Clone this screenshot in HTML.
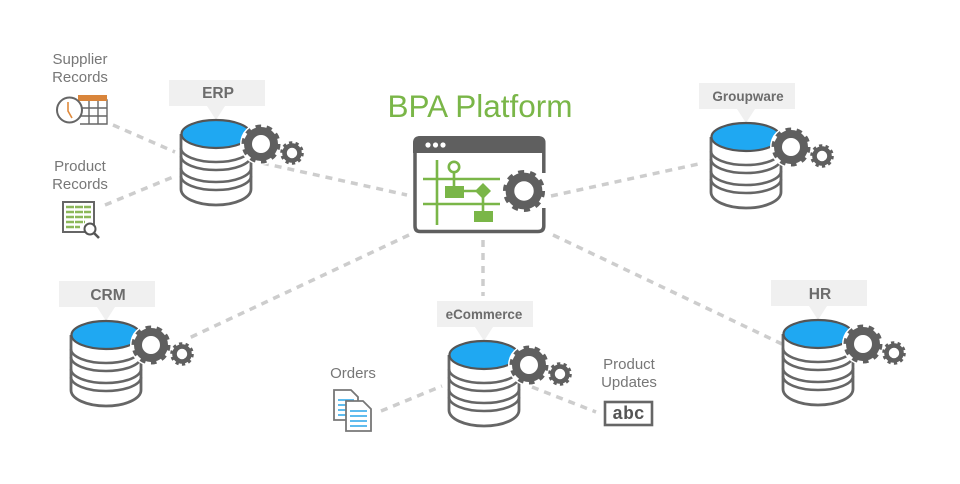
<!DOCTYPE html>
<html>
<head>
<meta charset="utf-8">
<style>
html,body{margin:0;padding:0;background:#fff;width:960px;height:484px;overflow:hidden}
svg{display:block}
text{font-family:"Liberation Sans",sans-serif;text-anchor:middle}
.lb{fill:#777;font-size:15px}
.tag{fill:#6c6c6c;font-weight:bold}
.d{stroke:#cdcdcd;stroke-width:3.5;stroke-dasharray:7 6;fill:none}
</style>
</head>
<body>
<svg width="960" height="484" viewBox="0 0 960 484" xmlns="http://www.w3.org/2000/svg">
<defs>
<g id="db">
  <rect x="-47" y="-54" width="96" height="26" fill="#f0f0f0"/>
  <path d="M-9 -28L0 -14L9 -28Z" fill="#f0f0f0"/>
  <path d="M-35 0V55A35 16 0 0 0 35 55V0" fill="#fff" stroke="#666" stroke-width="2.8"/>
  <path d="M-35 14A35 14 0 0 0 35 14" fill="none" stroke="#666" stroke-width="2.6"/>
  <path d="M-35 22A35 14 0 0 0 35 22" fill="none" stroke="#666" stroke-width="2.6"/>
  <path d="M-35 34A35 14 0 0 0 35 34" fill="none" stroke="#666" stroke-width="2.6"/>
  <path d="M-35 42A35 14 0 0 0 35 42" fill="none" stroke="#666" stroke-width="2.6"/>
  <ellipse cx="0" cy="0" rx="34.5" ry="14" fill="#1fa8f2" stroke="#555" stroke-width="2.2"/>
  <circle cx="45" cy="10" r="21" fill="#fff"/>
  <use href="#gb" x="45" y="10"/>
  <use href="#gs" x="76" y="19"/>
</g>
<g id="gb">
  <circle r="17" fill="none" stroke="#5f5f5f" stroke-width="5" stroke-dasharray="5.34 5.34"/>
  <circle r="13" fill="none" stroke="#5f5f5f" stroke-width="8"/>
</g>
<g id="gs">
  <circle r="10" fill="none" stroke="#5f5f5f" stroke-width="3.6" stroke-dasharray="3.14 3.14"/>
  <circle r="7.5" fill="none" stroke="#5f5f5f" stroke-width="4.6"/>
</g>
</defs>

<rect width="960" height="484" fill="#fff"/>

<!-- connectors -->
<path class="d" d="M113 125L175 152"/>
<path class="d" d="M105 205L173 177"/>
<path class="d" d="M262 163L407 195"/>
<path class="d" d="M551 196L703 163"/>
<path class="d" d="M553 235L782 344"/>
<path class="d" d="M409 235L187 339"/>
<path class="d" d="M483 240V296"/>
<path class="d" d="M381 411L442 386"/>
<path class="d" d="M532 387L596 412"/>

<!-- databases -->
<use href="#db" x="216" y="134"/>
<use href="#db" x="106" y="335"/>
<use href="#db" x="746" y="137"/>
<use href="#db" x="484" y="355"/>
<use href="#db" x="818" y="334"/>

<text x="218" y="98" class="tag" font-size="15.5">ERP</text>
<text x="108" y="300" class="tag" font-size="15.5">CRM</text>
<text x="748" y="101" class="tag" font-size="13.5">Groupware</text>
<text x="484" y="319" class="tag" font-size="13.4">eCommerce</text>
<text x="820" y="299" class="tag" font-size="15.5">HR</text>

<!-- title -->
<text x="480" y="117" font-size="31.5" fill="#7ab648">BPA Platform</text>

<!-- platform window -->
<path d="M543.8 173V143Q543.8 138 538 138H420Q415 138 415 143V226Q415 231.5 420 231.5H538Q543.8 231.5 543.8 226V208" fill="none" stroke="#5f5f5f" stroke-width="3.5"/>
<path d="M413 153V143Q413 136 420 136H538Q545.5 136 545.5 143V153Z" fill="#5f5f5f"/>
<circle cx="428" cy="145" r="2.6" fill="#fff"/><circle cx="435.5" cy="145" r="2.6" fill="#fff"/><circle cx="443" cy="145" r="2.6" fill="#fff"/>
<g stroke="#7ab648" stroke-width="2.6" fill="none">
  <path d="M437 160V225M423 179H500M423 204H500"/>
  <circle cx="454" cy="167" r="5.2"/>
  <path d="M454 172V192M462 191H478M483 197V215"/>
</g>
<rect x="445" y="186" width="19" height="12" fill="#7ab648"/>
<rect x="474" y="211" width="19" height="11" fill="#7ab648"/>
<path d="M483 183L491 191L483 199L475 191Z" fill="#7ab648"/>
<use href="#gb" transform="translate(524,191) scale(1.08)"/>

<!-- side labels -->
<text x="80" y="64" class="lb">Supplier</text>
<text x="80" y="82" class="lb">Records</text>
<text x="80" y="171" class="lb">Product</text>
<text x="80" y="189" class="lb">Records</text>
<text x="353" y="378" class="lb">Orders</text>
<text x="629" y="369" class="lb">Product</text>
<text x="629" y="387" class="lb">Updates</text>

<!-- supplier icon -->
<g fill="none" stroke="#666" stroke-width="1.4">
  <path d="M80 100H107V124H80M80 108H107M80 116H107M89 100V124M98 100V124"/>
</g>
<rect x="78" y="95" width="29" height="6" fill="#d9853b"/>
<circle cx="69.5" cy="110" r="12.5" fill="#fff" stroke="#666" stroke-width="2"/>
<path d="M68 102V111L72 118" fill="none" stroke="#e08a3c" stroke-width="1.6"/>

<!-- product records icon -->
<rect x="63" y="202" width="31" height="30" fill="#fff" stroke="#666" stroke-width="2"/>
<path d="M66 207H91M66 212H91M66 217H91M66 222H85M66 227H80" stroke="#8cb85a" stroke-width="2.6" stroke-dasharray="8 1"/>
<circle cx="90" cy="229" r="5.5" fill="#fff" stroke="#555" stroke-width="2"/>
<path d="M94 233L99 238" stroke="#555" stroke-width="2.6"/>

<!-- orders icon -->
<path d="M334 390H351L358 397V420H334Z" fill="#fff" stroke="#777" stroke-width="1.8"/>
<path d="M338 400H354M338 405H354M338 410H354M338 415H346" stroke="#2aa6e8" stroke-width="1.4"/>
<path d="M346 401H363L371 409V431H346Z" fill="#fff" stroke="#777" stroke-width="1.8"/>
<path d="M350 411H367M350 416H367M350 421H367M350 426H367" stroke="#2aa6e8" stroke-width="1.4"/>

<!-- abc icon -->
<rect x="605" y="402" width="47" height="23" fill="#fff" stroke="#666" stroke-width="2.6"/>
<text x="628.5" y="419" font-size="18" font-weight="bold" fill="#555" style="font-family:'Liberation Mono',monospace">abc</text>
</svg>
</body>
</html>
